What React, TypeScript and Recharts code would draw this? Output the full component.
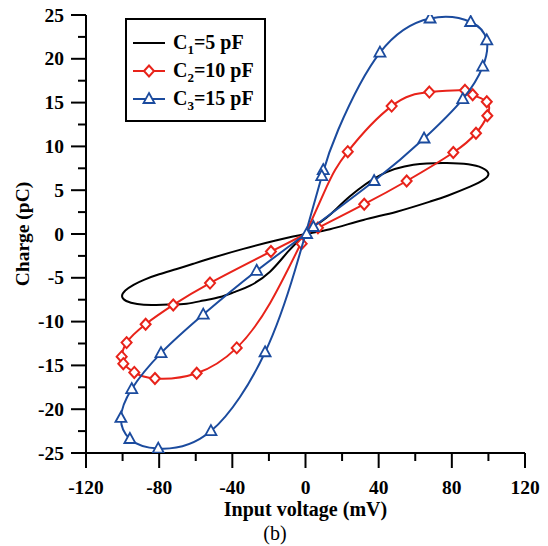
import React from 'react';
import { ScatterChart, Scatter, XAxis, YAxis, Label } from 'recharts';

type P = { v: number; q: number };

// C1 = 5 pF loop (no markers), traced in order
const c1Loop: P[] = [
  { v: 0, q: 0 }, { v: 6.5, q: 1.1 }, { v: 13.4, q: 2.2 }, { v: 24.3, q: 4.3 }, { v: 40.7, q: 6.7 }, { v: 59, q: 7.9 },
  { v: 77.2, q: 8.1 }, { v: 89, q: 7.95 }, { v: 96.5, q: 7.55 }, { v: 100, q: 6.9 }, { v: 97.5, q: 6.2 },
  { v: 90, q: 5.4 }, { v: 78, q: 4.4 }, { v: 68.1, q: 3.7 }, { v: 49.9, q: 2.55 }, { v: 31.6, q: 1.6 },
  { v: 13.4, q: 0.54 }, { v: 0, q: 0 },
  { v: -15.7, q: -0.72 }, { v: -34, q: -1.7 }, { v: -52.2, q: -2.8 }, { v: -61.3, q: -3.4 }, { v: -70.4, q: -4.0 },
  { v: -80, q: -4.6 }, { v: -88, q: -5.2 }, { v: -94, q: -5.8 }, { v: -98.5, q: -6.45 }, { v: -100.3, q: -7.1 },
  { v: -98, q: -7.65 }, { v: -92, q: -8.0 }, { v: -84, q: -8.1 }, { v: -75, q: -8.05 }, { v: -65, q: -7.95 },
  { v: -55.8, q: -7.6 }, { v: -46.7, q: -7.2 }, { v: -38.5, q: -6.6 }, { v: -30.3, q: -5.9 }, { v: -19.4, q: -4.3 },
  { v: -9.7, q: -2.05 }, { v: 0, q: 0 },
];

// C2 = 10 pF loop and its markers
const c2Loop: P[] = [
  { v: 0, q: 0 }, { v: 11.6, q: 5.4 }, { v: 23.1, q: 9.4 }, { v: 47.1, q: 14.6 }, { v: 67.7, q: 16.2 },
  { v: 87.2, q: 16.4 }, { v: 91.4, q: 15.9 }, { v: 99.1, q: 15.1 }, { v: 99.4, q: 13.5 }, { v: 93.2, q: 11.5 },
  { v: 80.8, q: 9.3 }, { v: 55.3, q: 6.05 }, { v: 32.1, q: 3.4 }, { v: 6.8, q: 0.7 }, { v: 0, q: 0 },
  { v: -18.9, q: -2.0 }, { v: -52.2, q: -5.6 }, { v: -72.3, q: -8.1 }, { v: -87.4, q: -10.3 }, { v: -97.8, q: -12.4 },
  { v: -100.5, q: -14.0 }, { v: -99.6, q: -14.8 }, { v: -93.6, q: -15.8 }, { v: -82.3, q: -16.5 }, { v: -59.5, q: -15.9 },
  { v: -37.6, q: -13.0 }, { v: -19.4, q: -7.9 }, { v: 0, q: 0 },
];
const c2Marks: P[] = [
  { v: 23.1, q: 9.4 }, { v: 47.1, q: 14.6 }, { v: 67.7, q: 16.2 }, { v: 87.2, q: 16.4 }, { v: 91.4, q: 15.9 },
  { v: 99.1, q: 15.1 }, { v: 99.4, q: 13.5 }, { v: 93.2, q: 11.5 }, { v: 80.8, q: 9.3 }, { v: 55.3, q: 6.05 },
  { v: 32.1, q: 3.4 }, { v: 6.8, q: 0.7 }, { v: -2.1, q: -1.1 }, { v: -18.9, q: -2.0 }, { v: -52.2, q: -5.6 },
  { v: -72.3, q: -8.1 }, { v: -87.4, q: -10.3 }, { v: -97.8, q: -12.4 }, { v: -100.5, q: -14.0 }, { v: -99.6, q: -14.8 },
  { v: -93.6, q: -15.8 }, { v: -82.3, q: -16.5 }, { v: -59.5, q: -15.9 }, { v: -37.6, q: -13.0 },
];

// C3 = 15 pF loop and its markers
const c3Loop: P[] = [
  { v: 0, q: 0 }, { v: 8.9, q: 6.6 }, { v: 17.9, q: 11.9 }, { v: 40.7, q: 20.7 }, { v: 68.1, q: 24.6 },
  { v: 90.3, q: 24.2 }, { v: 99.1, q: 22.1 }, { v: 96.9, q: 19.1 }, { v: 86, q: 15.4 }, { v: 64.8, q: 10.9 },
  { v: 37.5, q: 6.05 }, { v: 4.3, q: 0.8 }, { v: 0, q: 0 }, { v: -26.7, q: -4.2 }, { v: -55.9, q: -9.2 },
  { v: -79, q: -13.6 }, { v: -95, q: -17.7 }, { v: -100.9, q: -21.0 }, { v: -96, q: -23.4 }, { v: -80.5, q: -24.5 },
  { v: -51.7, q: -22.5 }, { v: -22.1, q: -13.5 }, { v: -5.7, q: -4.1 }, { v: 0, q: 0 },
];
const c3Marks: P[] = [
  { v: 9.7, q: 7.3 }, { v: 8.9, q: 6.6 }, { v: 40.7, q: 20.7 }, { v: 68.1, q: 24.6 }, { v: 90.3, q: 24.2 },
  { v: 99.1, q: 22.1 }, { v: 96.9, q: 19.1 }, { v: 86, q: 15.4 }, { v: 64.8, q: 10.9 }, { v: 37.5, q: 6.05 },
  { v: 4.3, q: 0.8 }, { v: 0.6, q: 0 }, { v: -26.7, q: -4.2 }, { v: -55.9, q: -9.2 }, { v: -79, q: -13.6 },
  { v: -95, q: -17.7 }, { v: -100.9, q: -21.0 }, { v: -96, q: -23.4 }, { v: -80.5, q: -24.5 }, { v: -51.7, q: -22.5 },
  { v: -22.1, q: -13.5 },
];

const xMajorTicks = [-120, -80, -40, 0, 40, 80, 120];
const xMinorTicks = [-100, -60, -20, 20, 60, 100];
const yMajorTicks = [-25, -20, -15, -10, -5, 0, 5, 10, 15, 20, 25];
const yMinorTicks = [-22.5, -17.5, -12.5, -7.5, -2.5, 2.5, 7.5, 12.5, 17.5, 22.5];

const seriesNames = ['5 pF', '10 pF', '15 pF'];

const FONT = '"Liberation Serif", "Times New Roman", serif';
const RED = '#e8231a';
const BLUE = '#1b4b9e';

const xTicksAll = [...xMajorTicks, ...xMinorTicks].sort((a, b) => a - b);
const yTicksAll = [...yMajorTicks, ...yMinorTicks].sort((a, b) => a - b);

const XTick = (props: any) => {
  const { x, y, payload } = props;
  const major = xMajorTicks.includes(payload.value);
  return (
    <g>
      <line x1={x} x2={x} y1={y} y2={y + (major ? 15 : 8)} stroke="#000" strokeWidth={2} />
      {major && (
        <text x={x} y={y + 41} textAnchor="middle" fontFamily={FONT} fontWeight="bold" fontSize={19.5} fill="#000">
          {payload.value}
        </text>
      )}
    </g>
  );
};

const YTick = (props: any) => {
  const { x, y, payload } = props;
  const major = yMajorTicks.includes(payload.value);
  return (
    <g>
      <line x1={x} x2={x - (major ? 15 : 8)} y1={y} y2={y} stroke="#000" strokeWidth={2} />
      {major && (
        <text x={x - 22} y={y + 6.5} textAnchor="end" fontFamily={FONT} fontWeight="bold" fontSize={19.5} fill="#000">
          {payload.value}
        </text>
      )}
    </g>
  );
};

const Diamond = (props: any) => {
  const { cx, cy } = props;
  if (cx == null || cy == null) return <g />;
  return <path d={`M${cx},${cy - 5.5}L${cx + 5},${cy}L${cx},${cy + 5.5}L${cx - 5},${cy}Z`} fill="#fff" stroke={RED} strokeWidth={2} />;
};

const Triangle = (props: any) => {
  const { cx, cy } = props;
  if (cx == null || cy == null) return <g />;
  return <path d={`M${cx},${cy - 6}L${cx + 5.5},${cy + 4}L${cx - 5.5},${cy + 4}Z`} fill="#fff" stroke={BLUE} strokeWidth={1.8} />;
};

const NoShape = () => <g />;

const LegendBox = () => {
  const rows = [
    { y: 25, color: '#000', marker: null as any, sub: '1', name: seriesNames[0] },
    { y: 53, color: RED, marker: 'd', sub: '2', name: seriesNames[1] },
    { y: 81, color: BLUE, marker: 't', sub: '3', name: seriesNames[2] },
  ];
  return (
    <div
      style={{
        position: 'absolute', left: 125, top: 18, width: 141, height: 104,
        border: '2px solid #000', boxSizing: 'border-box', background: '#fff',
      }}
    >
      <svg width={141} height={104} style={{ position: 'absolute', left: -2, top: -2 }}>
        {rows.map((r, i) => (
          <g key={i}>
            <line x1={8} x2={40} y1={r.y} y2={r.y} stroke={r.color} strokeWidth={2} />
            {r.marker === 'd' && <Diamond cx={24} cy={r.y} />}
            {r.marker === 't' && <Triangle cx={24} cy={r.y} />}
            <text x={48} y={r.y + 6} fontFamily={FONT} fontWeight="bold" fontSize={20} fill="#000">
              C<tspan fontSize={13} dy={5}>{r.sub}</tspan>
              <tspan dy={-5}>={r.name}</tspan>
            </text>
          </g>
        ))}
      </svg>
    </div>
  );
};

export default function App() {
  return (
    <div style={{ position: 'absolute', left: 0, top: 0, width: 548, height: 546, background: '#fff' }}>
      <ScatterChart width={548} height={546} margin={{ top: 15, right: 23, bottom: 0, left: 0 }}>
        <XAxis
          type="number"
          dataKey="v"
          domain={[-120, 120]}
          ticks={xTicksAll}
          interval={0}
          tickSize={0}
          tickMargin={0}
          tickLine={false}
          tick={(p: any) => <XTick {...p} />}
          axisLine={{ stroke: '#000', strokeWidth: 2 }}
          height={93}
          allowDataOverflow
        >
          <Label
            content={(p: any) => {
              const vb = p.viewBox || {};
              const cx = vb.x + vb.width / 2;
              return (
                <g>
                  <text x={cx} y={vb.y + 63} textAnchor="middle" fontFamily={FONT} fontWeight="bold" fontSize={20} fill="#000">
                    Input voltage (mV)
                  </text>
                  <text x={cx - 30.5} y={vb.y + 87} textAnchor="middle" fontFamily={FONT} fontSize={20} fill="#000">
                    (b)
                  </text>
                </g>
              );
            }}
          />
        </XAxis>
        <YAxis
          type="number"
          dataKey="q"
          domain={[-25, 25]}
          ticks={yTicksAll}
          interval={0}
          tickSize={0}
          tickMargin={0}
          tickLine={false}
          tick={(p: any) => <YTick {...p} />}
          axisLine={{ stroke: '#000', strokeWidth: 2 }}
          width={86}
          allowDataOverflow
        >
          <Label
            content={(p: any) => {
              const vb = p.viewBox || {};
              const cy = vb.y + vb.height / 2;
              return (
                <text
                  x={29}
                  y={cy}
                  transform={`rotate(-90, 29, ${cy})`}
                  textAnchor="middle"
                  fontFamily={FONT}
                  fontWeight="bold"
                  fontSize={19.5}
                  fill="#000"
                >
                  Charge (pC)
                </text>
              );
            }}
          />
        </YAxis>
        <Scatter data={c1Loop} line={{ stroke: '#000', strokeWidth: 2 }} lineJointType="natural" shape={NoShape} isAnimationActive={false} />
        <Scatter data={c2Loop} line={{ stroke: RED, strokeWidth: 2 }} lineJointType="natural" shape={NoShape} isAnimationActive={false} />
        <Scatter data={c2Marks} shape={Diamond} isAnimationActive={false} />
        <Scatter data={c3Loop} line={{ stroke: BLUE, strokeWidth: 2 }} lineJointType="natural" shape={NoShape} isAnimationActive={false} />
        <Scatter data={c3Marks} shape={Triangle} isAnimationActive={false} />
      </ScatterChart>
      <LegendBox />
    </div>
  );
}
